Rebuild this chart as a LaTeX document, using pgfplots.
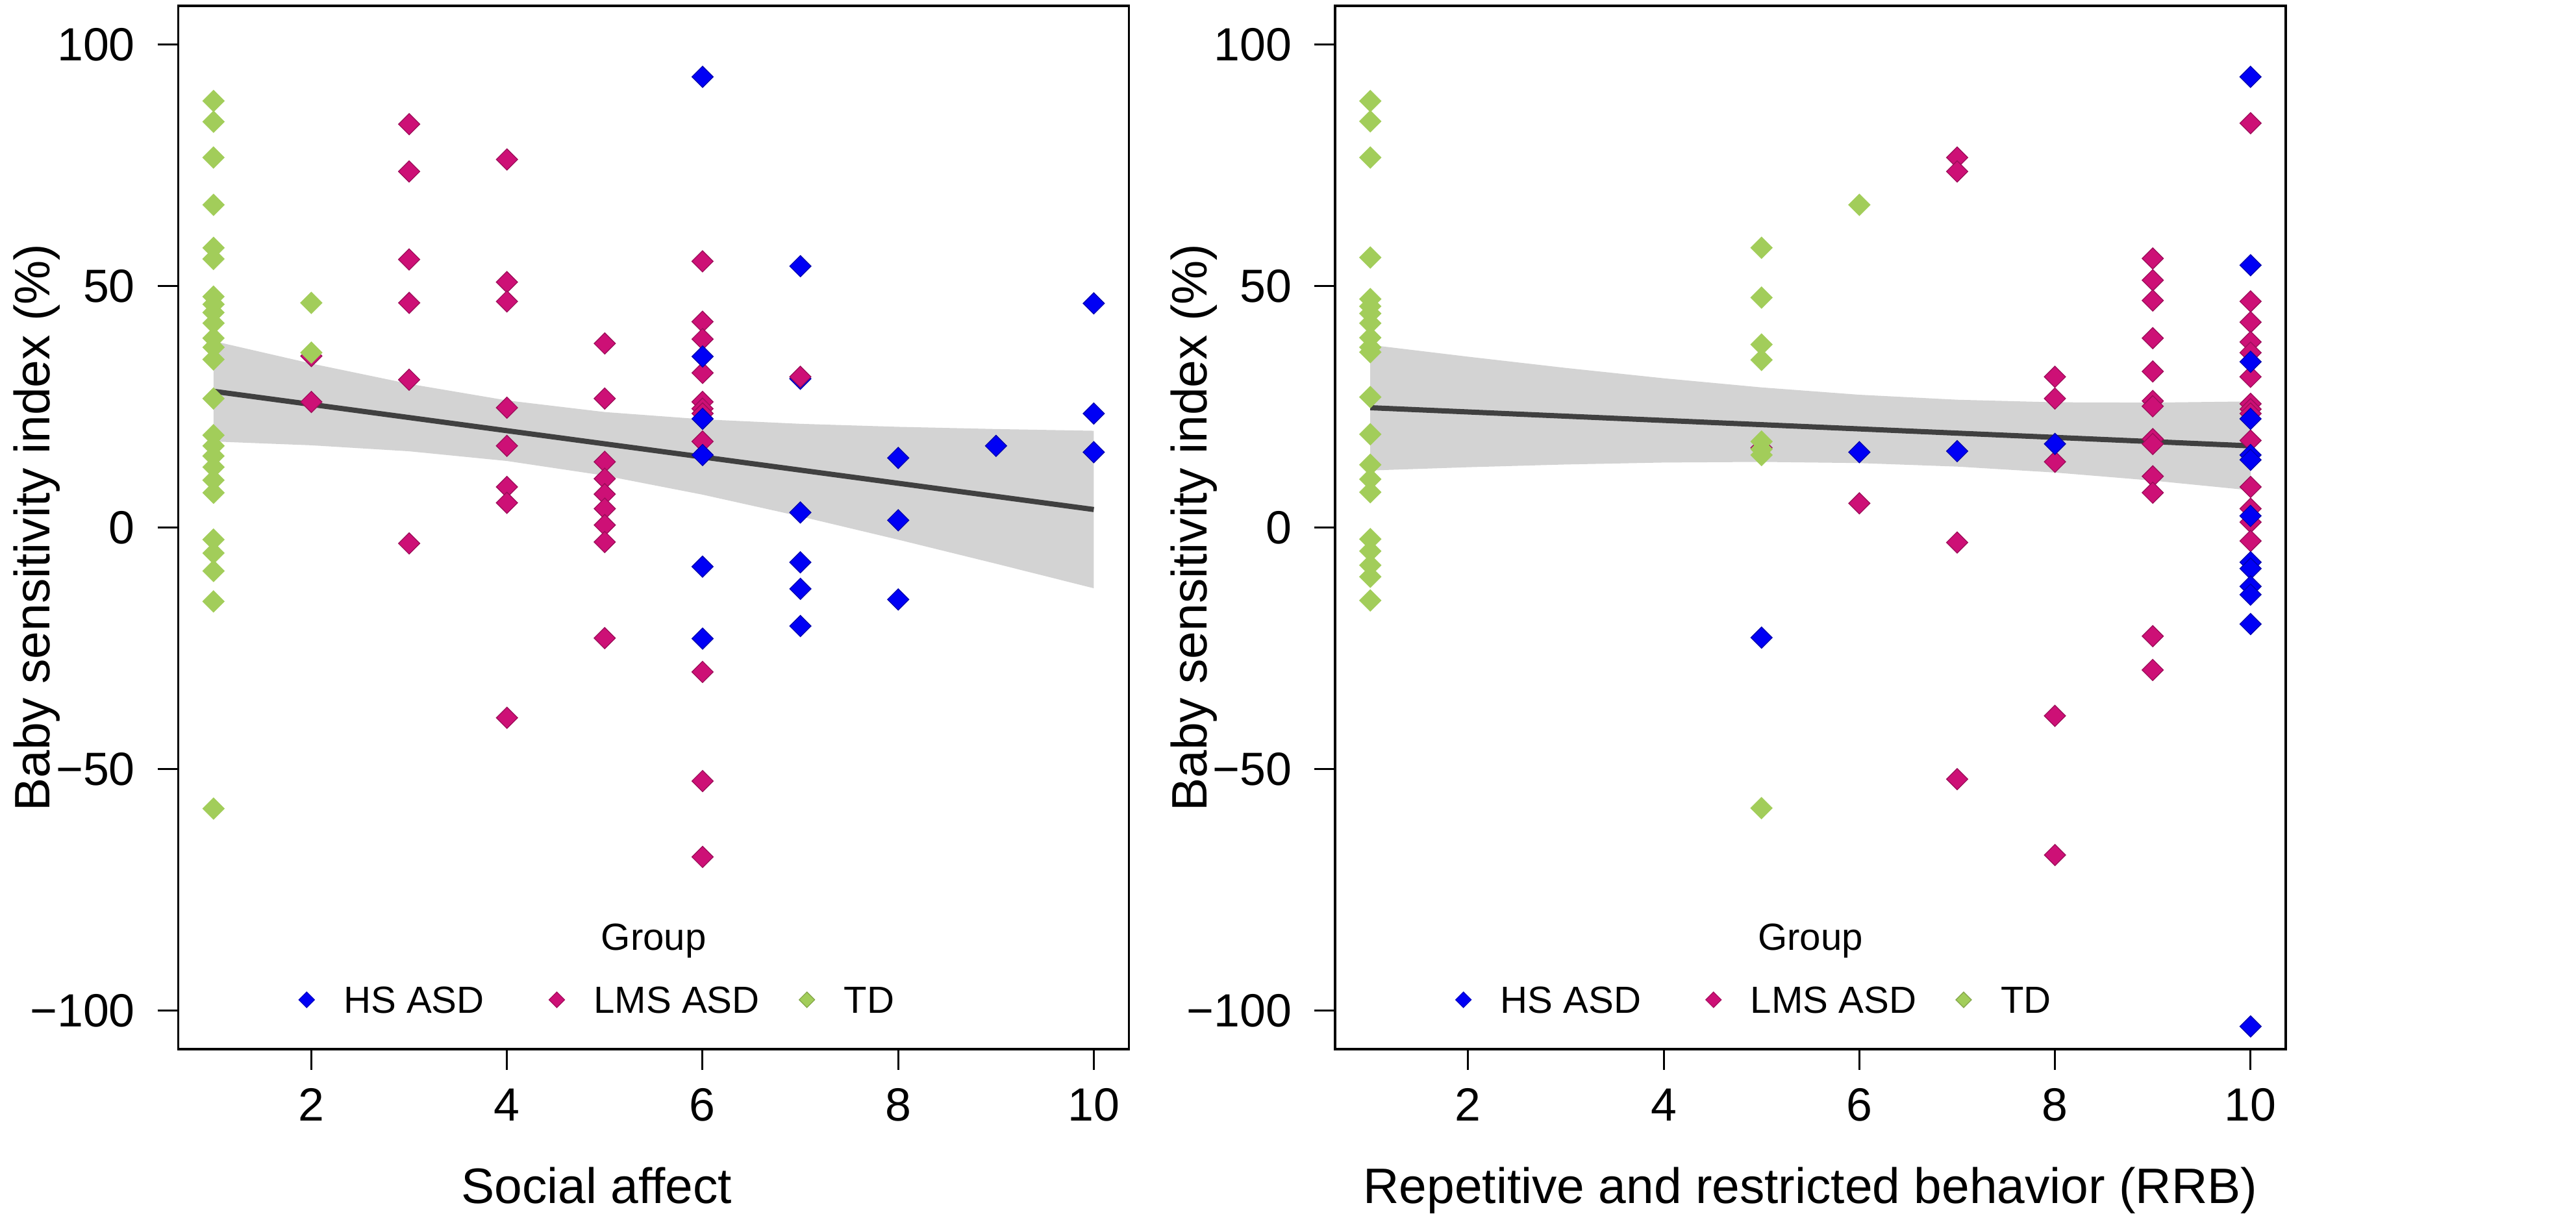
\documentclass[border=0pt]{standalone}
\usepackage{fontspec}
\setmainfont{Liberation Sans}
\usepackage{pgfplots}
\pgfplotsset{compat=1.18}
\definecolor{hsblue}{RGB}{0,0,245}
\definecolor{lmspink}{RGB}{205,16,118}
\definecolor{tdgreen}{RGB}{162,205,90}
\definecolor{bandgray}{RGB}{211,211,211}
\definecolor{linegray}{RGB}{64,64,64}
\pgfdeclareplotmark{rdiam}{%
  \pgfpathmoveto{\pgfqpoint{0pt}{\pgfplotmarksize}}%
  \pgfpathlineto{\pgfqpoint{\pgfplotmarksize}{0pt}}%
  \pgfpathlineto{\pgfqpoint{0pt}{-\pgfplotmarksize}}%
  \pgfpathlineto{\pgfqpoint{-\pgfplotmarksize}{0pt}}%
  \pgfpathclose\pgfusepathqfillstroke}
\pgfplotsset{
  panel/.style={
    scale only axis, width=366bp, height=401.75bp,
    xmin=0.64, xmax=10.36, ymin=-108, ymax=108,
    xtick={2,4,6,8,10}, xticklabels={2,4,6,8,10},
    ytick={-100,-50,0,50,100}, yticklabels={−100,−50,0,50,100},
    tick align=outside, tick pos=left,
    major tick length=8bp,
    every tick/.style={black, line width=0.75bp},
    axis line style={line width=0.9bp},
    ticklabel style={font=\fontsize{18}{18}\selectfont},
    xticklabel style={anchor=north, inner sep=0pt},
    yticklabel style={anchor=east, inner sep=0pt},
    xticklabel shift=7bp, yticklabel shift=8.5bp,
    label style={font=\fontsize{19.25}{20}\selectfont},
    ylabel style={at={(axis description cs:-0.135,0.5)}, anchor=base, rotate=0},
    legend columns=3, legend cell align=left,
    legend style={at={(axis description cs:0.1268,0.0473)}, anchor=west,
      draw=none, fill=none, inner sep=0pt, outer sep=0pt,
      font=\fontsize{14.6}{15}\selectfont,
      /tikz/column sep=0pt, /tikz/row sep=0pt,
      nodes={inner sep=0pt, text depth=0pt}},
  },
  hs/.style={only marks, mark=rdiam, mark size=4.1bp, mark options={fill=hsblue, draw=hsblue!70!black, line width=0.3bp}},
  lms/.style={only marks, mark=rdiam, mark size=4.1bp, mark options={fill=lmspink, draw=lmspink!75!black, line width=0.3bp}},
  td/.style={only marks, mark=rdiam, mark size=4.1bp, mark options={fill=tdgreen, draw=tdgreen, line width=0.3bp}},
}
\newcommand{\legimg}[1]{\addlegendimage{legend image code/.code={%
  \path[draw=none, fill=none] (-3bp,0bp) rectangle (14.25bp,0.1bp);
  \path[fill=#1, draw=#1!80!black, line width=0.3bp] plot[mark=rdiam, mark size=3bp, only marks] coordinates {(0bp,0bp)};}}}
\begin{document}
\begin{tikzpicture}
\useasboundingbox (0,0) rectangle (991.75bp,468.25bp);
% ---------------- left panel ----------------
\begin{axis}[panel, at={(68.65bp,64.25bp)}, anchor=south west,
  xlabel={Social affect}, ylabel={Baby sensitivity index (\%)},
  xlabel style={at={(axis description cs:0.4401,-0.1475)}, anchor=base}]
\addplot[fill=bandgray, draw=none, forget plot] coordinates {
 (1,38.59)(2,33.94)(3,29.74)(4,26.31)(5,23.90)(6,22.40)(7,21.46)(8,20.84)(9,20.38)(10,20.02)
 (10,-12.58)(9,-7.50)(8,-2.52)(7,2.30)(6,6.80)(5,10.74)(4,13.77)(3,15.78)(2,17.02)(1,17.81)};
\addplot[linegray, line width=2bp, forget plot] coordinates {(1,28.2)(10,3.72)};
\addplot[hs, forget plot] coordinates {(7,30.8)};
\addplot[lms, forget plot] coordinates {
 (2,35.5)(2,26.0)
 (3,83.5)(3,73.7)(3,55.5)(3,46.5)(3,30.6)(3,-3.3)
 (4,76.2)(4,50.8)(4,46.8)(4,24.8)(4,16.9)(4,8.4)(4,5.1)(4,-39.4)
 (5,38.1)(5,26.7)(5,13.6)(5,10.1)(5,6.9)(5,3.9)(5,0.5)(5,-3.0)(5,-22.9)
 (6,55.1)(6,42.6)(6,39.0)(6,32.0)(6,26.0)(6,24.6)(6,23.6)(6,17.8)(6,-29.9)(6,-52.5)(6,-68.2)
 (7,31.2)};
\addplot[hs, forget plot] coordinates {
 (6,93.3)(6,35.4)(6,22.5)(6,15.0)(6,-8.1)(6,-23.0)
 (7,54.1)(7,3.1)(7,-7.2)(7,-12.7)(7,-20.4)
 (8,14.4)(8,1.5)(8,-14.9)
 (9,16.9)
 (10,46.4)(10,23.6)(10,15.6)};
\addplot[td, forget plot] coordinates {
 (1,88.3)(1,84.0)(1,76.6)(1,66.8)(1,57.9)(1,55.6)(1,47.8)(1,46.2)(1,44.5)(1,42.3)
 (1,39.2)(1,37.3)(1,34.8)(1,26.7)(1,19.1)(1,16.9)(1,14.8)(1,12.5)(1,9.8)(1,7.2)
 (1,-2.5)(1,-5.3)(1,-9.0)(1,-15.3)(1,-58.2)
 (2,46.5)(2,36.2)};
\legimg{hsblue}\addlegendentry{\makebox[79.05bp][l]{HS ASD}}
\legimg{lmspink}\addlegendentry{\makebox[79.05bp][l]{LMS ASD}}
\legimg{tdgreen}\addlegendentry{TD}
\node[anchor=base, font=\fontsize{14.6}{15}\selectfont] at (axis description cs:0.5,0.0952) {Group};
\end{axis}
% ---------------- right panel ----------------
\begin{axis}[panel, at={(514bp,64.25bp)}, anchor=south west,
  xlabel={Repetitive and restricted behavior (RRB)}, ylabel={Baby sensitivity index (\%)},
  xlabel style={at={(axis description cs:0.5,-0.1475)}, anchor=base}]
\addplot[fill=bandgray, draw=none, forget plot] coordinates {
 (1,37.80)(2,35.36)(3,33.03)(4,30.89)(5,29.00)(6,27.48)(7,26.45)(8,25.92)(9,25.85)(10,26.10)
 (10,7.70)(9,9.71)(8,11.38)(7,12.61)(6,13.34)(5,13.58)(4,13.45)(3,13.05)(2,12.48)(1,11.80)};
\addplot[linegray, line width=2bp, forget plot] coordinates {(1,24.8)(10,16.9)};
\addplot[lms, forget plot] coordinates {
 (5,16.5)(6,5.0)
 (7,76.6)(7,73.7)(7,-3.1)(7,-52.1)
 (8,31.2)(8,26.7)(8,13.6)(8,-39.0)(8,-67.8)
 (9,55.7)(9,51.2)(9,47.0)(9,39.2)(9,32.3)(9,26.2)(9,25.1)(9,18.3)(9,17.3)(9,10.6)(9,7.2)(9,-22.5)(9,-29.5)
 (10,83.7)(10,46.8)(10,42.5)(10,38.4)(10,36.2)(10,31.2)(10,25.6)(10,24.5)(10,23.6)(10,18.0)(10,8.4)(10,3.9)(10,1.1)(10,-2.8)};
\addplot[hs, forget plot] coordinates {
 (5,-22.8)(6,15.6)(7,15.8)(8,17.3)
 (10,93.3)(10,54.3)(10,34.3)(10,22.5)(10,15.0)(10,14.0)(10,2.4)(10,-7.2)(10,-8.5)(10,-12.2)(10,-13.9)(10,-20.0)(10,-103.3)};
\addplot[td, forget plot] coordinates {
 (1,88.3)(1,84.1)(1,76.6)(1,55.9)(1,47.3)(1,45.8)(1,44.3)(1,42.3)(1,39.3)(1,37.3)(1,36.3)
 (1,27.0)(1,19.3)(1,13.0)(1,10.0)(1,7.3)(1,-2.4)(1,-4.9)(1,-7.8)(1,-10.2)(1,-15.1)
 (5,57.9)(5,47.6)(5,37.9)(5,34.7)(5,17.8)(5,16.2)(5,15.0)(5,-58.1)
 (6,66.8)};
\legimg{hsblue}\addlegendentry{\makebox[79.05bp][l]{HS ASD}}
\legimg{lmspink}\addlegendentry{\makebox[79.05bp][l]{LMS ASD}}
\legimg{tdgreen}\addlegendentry{TD}
\node[anchor=base, font=\fontsize{14.6}{15}\selectfont] at (axis description cs:0.5,0.0952) {Group};
\end{axis}
\end{tikzpicture}
\end{document}
